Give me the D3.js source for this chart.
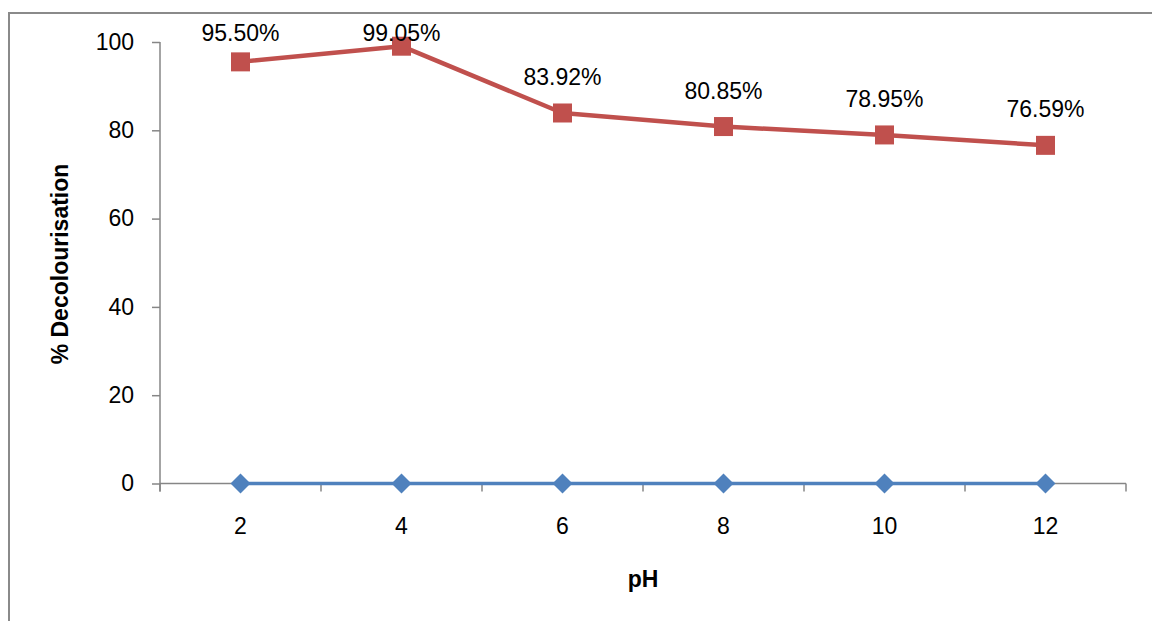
<!DOCTYPE html>
<html><head><meta charset="utf-8">
<script src="https://cdn.jsdelivr.net/npm/d3@7"></script>
<style>
html,body{margin:0;padding:0;background:#fff;}
svg{display:block;}
text{font-family:"Liberation Sans",Arial,sans-serif;fill:#000;}
</style></head>
<body>
<svg id="chart" width="1152" height="621"></svg>
<script>
const categories = ["2","4","6","8","10","12"];
const controlValues = [0,0,0,0,0,0];
const decolourValues = [95.50,99.05,83.92,80.85,78.95,76.59];
const decolourLabels = ["95.50%","99.05%","83.92%","80.85%","78.95%","76.59%"];
const yTicks = [0,20,40,60,80,100];

const svg = d3.select("#chart");
const axisColor = "#868686";

// outer chart border
svg.append("rect").attr("x",9).attr("y",13).attr("width",1160).attr("height",620)
  .attr("fill","none").attr("stroke","#8a8a8a").attr("stroke-width",2);

const x = d3.scaleBand().domain(categories).range([160,1126]).padding(0);
const y = d3.scaleLinear().domain([0,100]).range([483.5,42]);
const cx = d => x(d) + x.bandwidth()/2;

// Y axis
const yAxis = svg.append("g").attr("transform","translate(160,0)")
  .call(d3.axisLeft(y).tickValues(yTicks).tickSize(8).tickPadding(18).tickFormat(d3.format("d")));
yAxis.select(".domain").attr("stroke",axisColor).attr("stroke-width",1.5).attr("d","M0,42V491.5");
yAxis.selectAll(".tick line").attr("stroke",axisColor).attr("stroke-width",1.5);
yAxis.selectAll(".tick text").style("font-size","23px").style("font-family","Liberation Sans, Arial, sans-serif").attr("fill","#000");

// X axis with ticks at category boundaries
const xAxisG = svg.append("g").attr("transform",`translate(0,${y(0)})`);
xAxisG.append("line").attr("x1",160).attr("x2",1126).attr("y1",0).attr("y2",0)
  .attr("stroke",axisColor).attr("stroke-width",1.5);
const bounds = categories.map(c => x(c)).concat([x(categories[categories.length-1]) + x.bandwidth()]);
xAxisG.selectAll("line.tk").data(bounds).enter().append("line").attr("class","tk")
  .attr("x1",d=>d).attr("x2",d=>d).attr("y1",0).attr("y2",8)
  .attr("stroke",axisColor).attr("stroke-width",1.5);
xAxisG.selectAll("text.lbl").data(categories).enter().append("text").attr("class","lbl")
  .attr("x",d=>cx(d)).attr("y",50).attr("text-anchor","middle")
  .style("font-size","23px").text(d=>d);

// Axis titles
svg.append("text").attr("x",643).attr("y",587).attr("text-anchor","middle")
  .style("font-size","23px").style("font-weight","bold").text("pH");
svg.append("text").attr("transform","translate(68,264) rotate(-90)").attr("text-anchor","middle")
  .style("font-size","23px").style("font-weight","bold").text("% Decolourisation");

// Blue series
const line = d3.line().x((d,i)=>cx(categories[i])).y(d=>y(d));
svg.append("path").datum(controlValues).attr("d",line).attr("fill","none")
  .attr("stroke","#4F81BD").attr("stroke-width",3.5);
svg.selectAll("path.dia").data(controlValues).enter().append("path").attr("class","dia")
  .attr("transform",(d,i)=>`translate(${cx(categories[i])},${y(d)})`)
  .attr("d","M0,-10L10,0L0,10L-10,0Z").attr("fill","#4F81BD");

// Red series
svg.append("path").datum(decolourValues).attr("d",line).attr("fill","none")
  .attr("stroke","#C0504D").attr("stroke-width",4.5).attr("stroke-linejoin","round");
svg.selectAll("rect.sq").data(decolourValues).enter().append("rect").attr("class","sq")
  .attr("x",(d,i)=>cx(categories[i])-9.5).attr("y",d=>y(d)-9.5)
  .attr("width",19).attr("height",19).attr("fill","#C0504D");

// Data labels (kept inside the chart top)
svg.selectAll("text.dl").data(decolourValues).enter().append("text").attr("class","dl")
  .attr("x",(d,i)=>cx(categories[i]))
  .attr("y",d=>Math.max(y(d)-36, 33)+8)
  .attr("text-anchor","middle").style("font-size","23px")
  .text((d,i)=>decolourLabels[i]);
</script>
</body></html>
